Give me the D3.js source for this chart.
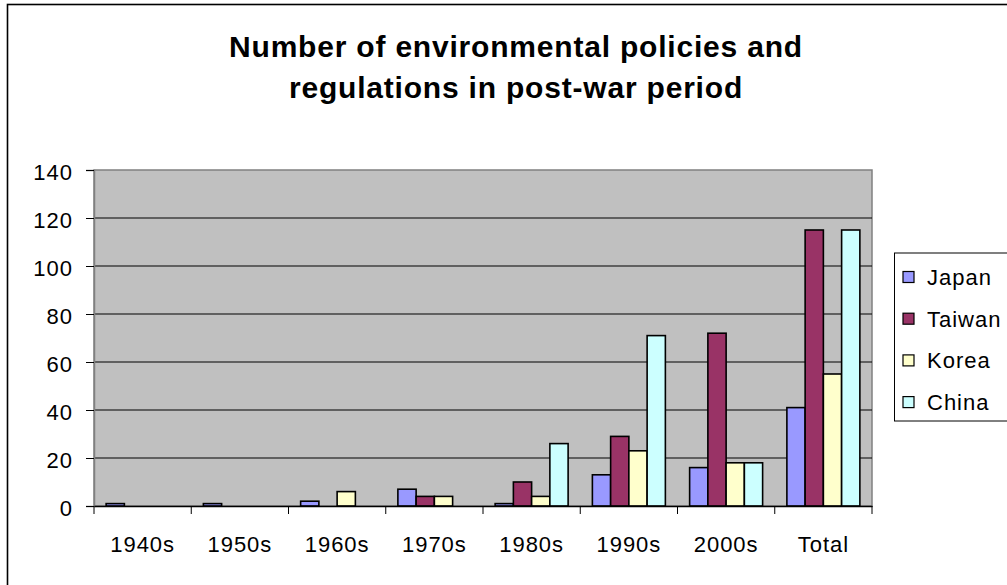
<!DOCTYPE html>
<html>
<head>
<meta charset="utf-8">
<script src="https://cdn.jsdelivr.net/npm/d3@7"></script>
<style>
  body { margin: 0; background: #fff; }
  svg { display: block; font-family: 'Liberation Sans', Arial, sans-serif; }
</style>
</head>
<body>
<svg id="chart" width="1007" height="585"></svg>
<script>
// data
var categories = ['1940s', '1950s', '1960s', '1970s', '1980s', '1990s', '2000s', 'Total']
var seriesNames = ['Japan', 'Taiwan', 'Korea', 'China']
var japan = [1, 1, 2, 7, 1, 13, 16, 41]
var taiwan = [0, 0, 0, 4, 10, 29, 72, 115]
var korea = [0, 0, 6, 4, 4, 23, 18, 55]
var china = [0, 0, 0, 0, 26, 71, 18, 115]
var yTicks = [0, 20, 40, 60, 80, 100, 120, 140]
var titleLines = ['Number of environmental policies and', 'regulations in post-war period']

var values = [japan, taiwan, korea, china]
var colors = ['#9999FF', '#993366', '#FFFFCC', '#CCFFFF']

var svg = d3.select('#chart')

// plot area
var plotLeft = 94, plotRight = 872, plotTop = 170, plotBottom = 506

var xScale = d3.scaleBand().domain(categories).range([plotLeft, plotRight]).padding(0)
var xInner = d3.scaleBand().domain(seriesNames).range([0, xScale.bandwidth()])
  .paddingInner(0).paddingOuter(0.665)
var yScale = d3.scaleLinear().domain([0, 140]).range([plotBottom, plotTop])

// chart border
svg.append('rect')
  .attr('x', 7.5).attr('y', 4.5)
  .attr('width', 1030).attr('height', 600)
  .attr('fill', '#fff').attr('stroke', '#000').attr('stroke-width', 1.6)

// title
svg.append('g').selectAll('text')
  .data(titleLines)
  .enter()
  .append('text')
  .attr('x', 516)
  .attr('y', function(d, i) { return 57 + i * 41 })
  .attr('text-anchor', 'middle')
  .attr('font-size', 30)
  .attr('font-weight', 'bold')
  .attr('letter-spacing', 0.8)
  .text(function(d) { return d })

// plot background
svg.append('rect')
  .attr('x', plotLeft).attr('y', plotTop)
  .attr('width', plotRight - plotLeft).attr('height', plotBottom - plotTop)
  .attr('fill', '#C0C0C0')
  .attr('stroke', '#808080').attr('stroke-width', 1.5)

// gridlines
svg.append('g')
  .selectAll('line')
  .data(yTicks.filter(function(d) { return d > 0 && d < 140 }))
  .enter()
  .append('line')
  .attr('x1', plotLeft).attr('x2', plotRight)
  .attr('y1', function(d) { return yScale(d) })
  .attr('y2', function(d) { return yScale(d) })
  .attr('stroke', '#000').attr('stroke-width', 1)

// bars
var groups = svg.append('g')
  .selectAll('g')
  .data(seriesNames)
  .enter()
  .append('g')
  .attr('fill', function(d, i) { return colors[i] })

groups.selectAll('rect')
  .data(function(d, i) {
    return categories.map(function(c, j) { return { cat: c, series: d, v: values[i][j] } })
      .filter(function(e) { return e.v > 0 })
  })
  .enter()
  .append('rect')
  .attr('x', function(d) { return xScale(d.cat) + xInner(d.series) })
  .attr('width', xInner.bandwidth())
  .attr('y', function(d) { return yScale(d.v) })
  .attr('height', function(d) { return plotBottom - yScale(d.v) })
  .attr('stroke', '#000')
  .attr('stroke-width', 1.6)

// y axis
var yAxis = d3.axisLeft(yScale).tickValues(yTicks).tickSize(8).tickPadding(13)
svg.append('g')
  .attr('class', 'axis y-axis')
  .attr('transform', 'translate(' + plotLeft + ',0)')
  .call(yAxis)
  .call(function(g) {
    g.select('.domain').attr('stroke', '#808080').attr('stroke-width', 1.5)
    g.selectAll('.tick line').attr('stroke', '#000')
    g.selectAll('text')
      .attr('font-size', 22)
      .attr('letter-spacing', 1)
      .attr('font-family', "'Liberation Sans', Arial, sans-serif")
      .attr('fill', '#000')
      .attr('dy', '0.45em')
  })

// x axis
var xAxis = d3.axisBottom(xScale).tickSize(0).tickPadding(30)
svg.append('g')
  .attr('class', 'axis x-axis')
  .attr('transform', 'translate(0,' + plotBottom + ')')
  .call(xAxis)
  .call(function(g) {
    g.select('.domain').attr('stroke', '#000').attr('stroke-width', 1.5)
    g.selectAll('text')
      .attr('font-size', 22)
      .attr('letter-spacing', 1)
      .attr('font-family', "'Liberation Sans', Arial, sans-serif")
      .attr('fill', '#000')
  })

// category separator ticks
svg.append('g')
  .selectAll('line')
  .data(categories.concat(['end']))
  .enter()
  .append('line')
  .attr('x1', function(d, i) { return plotLeft + i * xScale.step() })
  .attr('x2', function(d, i) { return plotLeft + i * xScale.step() })
  .attr('y1', plotBottom).attr('y2', plotBottom + 8)
  .attr('stroke', '#000').attr('stroke-width', 1)

// legend
var legend = svg.append('g')
legend.append('rect')
  .attr('x', 894.5).attr('y', 253)
  .attr('width', 130).attr('height', 168)
  .attr('fill', '#fff').attr('stroke', '#000').attr('stroke-width', 1)

var items = legend.selectAll('g')
  .data(seriesNames)
  .enter()
  .append('g')
  .attr('transform', function(d, i) { return 'translate(903,' + (277 + i * 41.7) + ')' })

items.append('rect')
  .attr('x', 0).attr('y', -5.5)
  .attr('width', 11).attr('height', 11)
  .attr('fill', function(d, i) { return colors[i] })
  .attr('stroke', '#000').attr('stroke-width', 1.2)

items.append('text')
  .attr('x', 24).attr('y', 8)
  .attr('font-size', 22)
  .attr('letter-spacing', 1)
  .text(function(d) { return d })
</script>
</body>
</html>
